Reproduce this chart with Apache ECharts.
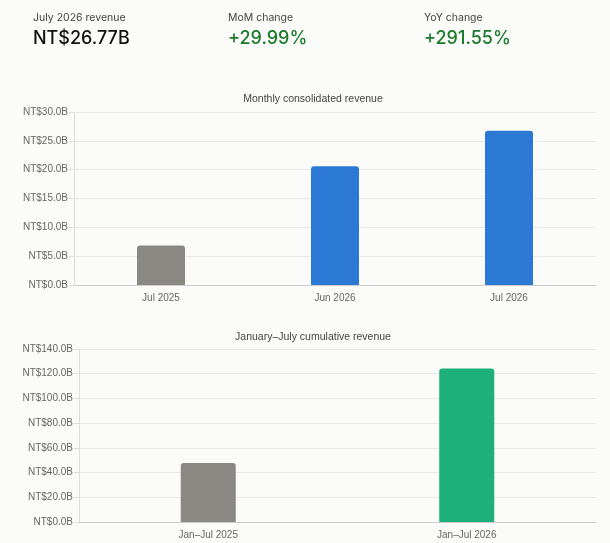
<!DOCTYPE html>
<html><head><meta charset="utf-8">
<script src="https://cdn.jsdelivr.net/npm/echarts@6/dist/echarts.min.js"></script>
<style>html,body{margin:0;padding:0;background:#fbfbf9;}#c{width:610px;height:543px;}</style>
</head><body><div id="c"></div>
<script>
const kpiLabels = ['July 2026 revenue', 'MoM change', 'YoY change'];
const kpiValues = ['NT$26.77B', '+29.99%', '+291.55%'];
const monthlyCategories = ['Jul 2025', 'Jun 2026', 'Jul 2026'];
const monthlyValues = [6.84, 20.59, 26.77];
const monthlyColors = ['#8a8883', '#2b78d5', '#2b78d5'];
const cumulativeCategories = ['Jan\u2013Jul 2025', 'Jan\u2013Jul 2026'];
const cumulativeValues = [47.7, 124.3];
const cumulativeColors = ['#8a8883', '#1db07b'];
const monthlyTicks = [0, 30, 5];
const cumulativeTicks = [0, 140, 20];

const chart = echarts.init(document.getElementById('c'), null, {renderer: 'canvas'});
const fmt = v => 'NT$' + v.toFixed(1) + 'B';
const kpiX = [33, 228, 424];
const graphics = [];
kpiLabels.forEach((l, i) => {
  graphics.push({type: 'text', left: kpiX[i], top: 12, style: {text: l, fontSize: 10.5, fill: '#444', fontFamily: 'Inter'}});
  graphics.push({type: 'text', left: kpiX[i], top: 30, style: {text: kpiValues[i], fontSize: 18, fontWeight: 500, fill: i === 0 ? '#111' : '#1b7a2b', fontFamily: 'Inter'}});
});
const yAxisBase = (t) => ({
  type: 'value', min: t[0], max: t[1], interval: t[2],
  axisLine: {show: true, lineStyle: {color: '#dddddd'}},
  axisTick: {show: true, length: 5, lineStyle: {color: '#dddddd'}},
  splitLine: {lineStyle: {color: '#e8e8e6'}},
  axisLabel: {formatter: fmt, fontSize: 10, color: '#666', fontFamily: 'Liberation Sans', margin: 6}
});
const xAxisBase = (cats, gi) => ({
  type: 'category', data: cats, gridIndex: gi,
  axisLine: {lineStyle: {color: '#cccccc'}},
  axisTick: {show: false},
  axisLabel: {fontSize: 10, color: '#666', fontFamily: 'Liberation Sans', margin: 8}
});
chart.setOption({
  backgroundColor: '#fbfbf9',
  animation: false,
  graphic: graphics,
  title: [
    {text: 'Monthly consolidated revenue', left: 308, textAlign: 'center', top: 89, textStyle: {fontSize: 10.5, fontWeight: 'normal', color: '#444', fontFamily: 'Liberation Sans'}},
    {text: 'January\u2013July cumulative revenue', left: 308, textAlign: 'center', top: 327, textStyle: {fontSize: 10.5, fontWeight: 'normal', color: '#444', fontFamily: 'Liberation Sans'}}
  ],
  grid: [
    {left: 74, right: 14, top: 112, height: 173},
    {left: 79, right: 14, top: 349, height: 173}
  ],
  xAxis: [xAxisBase(monthlyCategories, 0), xAxisBase(cumulativeCategories, 1)],
  yAxis: [Object.assign(yAxisBase(monthlyTicks), {gridIndex: 0}), Object.assign(yAxisBase(cumulativeTicks), {gridIndex: 1})],
  series: [
    {type: 'bar', xAxisIndex: 0, yAxisIndex: 0, barWidth: 48,
     data: monthlyValues.map((v, i) => ({value: v, itemStyle: {color: monthlyColors[i], borderRadius: [3, 3, 0, 0]}}))},
    {type: 'bar', xAxisIndex: 1, yAxisIndex: 1, barWidth: 55,
     data: cumulativeValues.map((v, i) => ({value: v, itemStyle: {color: cumulativeColors[i], borderRadius: [3, 3, 0, 0]}}))}
  ]
});
</script></body></html>
